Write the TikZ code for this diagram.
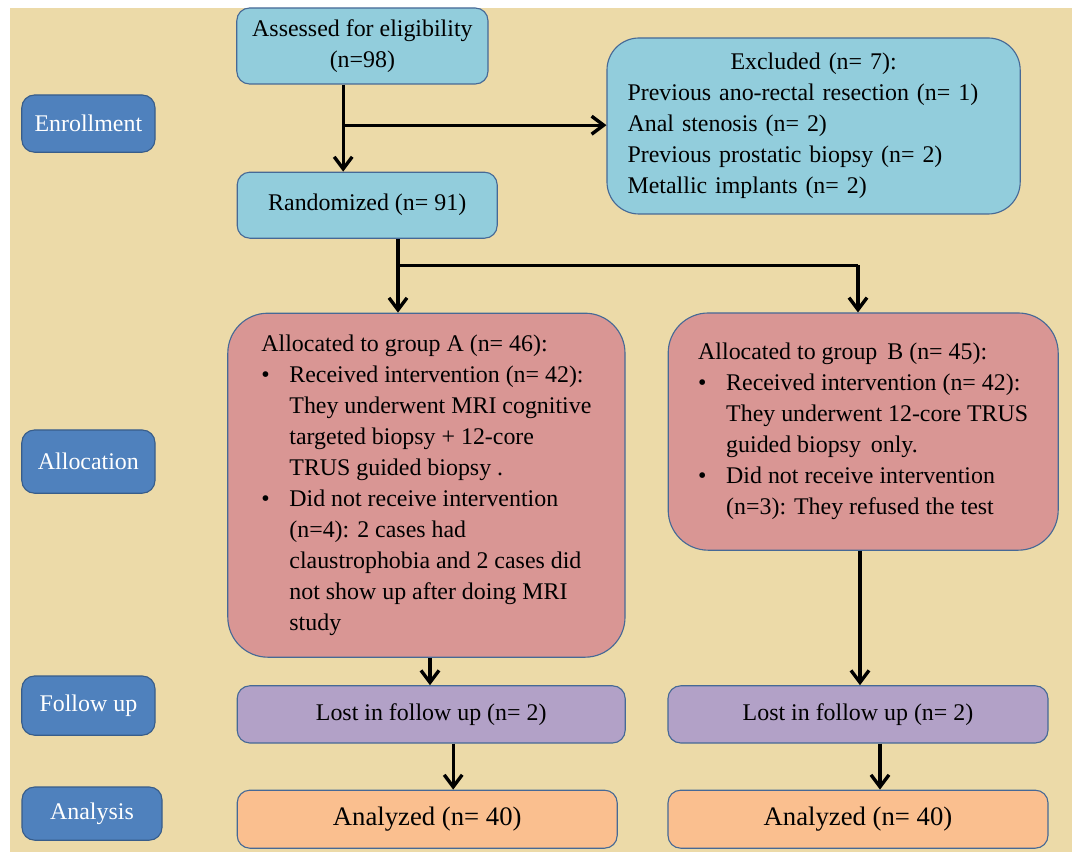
\documentclass[tikz,border=0pt]{standalone}
\usepackage{fontspec}
\setmainfont{Liberation Serif}
\usepackage{tikz}
\usetikzlibrary{positioning,arrows.meta}
\definecolor{paper}{RGB}{236,218,168}
\definecolor{stagefill}{RGB}{79,129,189}
\definecolor{stageline}{RGB}{56,93,138}
\definecolor{aqua}{RGB}{146,205,220}
\definecolor{rose}{RGB}{217,150,148}
\definecolor{lilac}{RGB}{178,161,199}
\definecolor{peach}{RGB}{250,191,143}
\definecolor{boxline}{RGB}{70,105,150}
\newcommand{\itm}{\makebox[7mm][l]{\textbullet}}
\newcommand{\ind}{\hspace*{7mm}}

\begin{document}
\begin{tikzpicture}[
every node/.style = {draw=boxline, line width=0.8pt, rounded corners=9pt, font=\fontsize{17}{22}\selectfont},
stage/.style = {fill=stagefill, draw=stageline, text=white, minimum width=3.33cm},
screen/.style = {fill=aqua},
group/.style = {fill=rose, rounded corners=1cm, align=left},
lost/.style = {fill=lilac, minimum width=9.5cm, minimum height=1.43cm},
done/.style = {fill=peach, minimum width=9.5cm, minimum height=1.45cm, font=\fontsize{19}{22}\selectfont},
arr/.style = {line width=2.4pt, -{Straight Barb[length=3mm,width=4.5mm]}}
]
\useasboundingbox (0,0) rectangle (26.975,-21.425);
\fill[paper] (0.25,-0.2) rectangle (26.8,-21.3);

\node (enroll) [stage, minimum height=1.43cm] at (2.21,-3.09) {Enrollment};
\node (alloc) [stage, minimum height=1.58cm] at (2.21,-11.54) {Allocation};
\node (follow) [stage, minimum height=1.48cm] at (2.21,-17.64) {Follow up};
\node (analysis) [stage, minimum width=3.5cm, minimum height=1.33cm] at (2.3,-20.34) {Analysis};

\node (assessed) [screen, align=center, minimum width=6.28cm, minimum height=1.9cm] at (9.06,-1.15) {Assessed for eligibility\\(n=98)};
\node (rand) [screen, minimum width=6.5cm, minimum height=1.65cm] at (9.18,-5.13) {Randomized (n= 91)};
\node (excl) [screen, rounded corners=0.8cm, text width=9.3cm, minimum width=10.33cm, minimum height=4.4cm] at (20.34,-3.15)
  {\centering Excluded (n= 7):\par\raggedright Previous ano-rectal resection (n= 1)\\Anal stenosis (n= 2)\\Previous prostatic biopsy (n= 2)\\Metallic implants (n= 2)};

\node (grpA) [group, minimum width=9.93cm, minimum height=8.6cm] at (10.66,-12.13)
  {Allocated to group A (n= 46):\\
   \itm Received intervention (n= 42):\\
   \ind They underwent MRI cognitive\\
   \ind targeted biopsy + 12-core\\
   \ind TRUS guided biopsy .\\
   \itm Did not receive intervention\\
   \ind (n=4): 2 cases had\\
   \ind claustrophobia and 2 cases did\\
   \ind not show up after doing MRI\\
   \ind study};
\node (grpB) [group, minimum width=9.75cm, minimum height=5.93cm] at (21.58,-10.79)
  {Allocated to group\, B (n= 45):\\
   \itm Received intervention (n= 42):\\
   \ind They underwent 12-core TRUS\\
   \ind guided biopsy\, only.\\
   \itm Did not receive intervention\\
   \ind (n=3): They refused the test};

\node (lostA) [lost, minimum width=9.7cm] at (10.78,-17.86) {Lost in follow up (n= 2)};
\node (lostB) [lost] at (21.45,-17.86) {Lost in follow up (n= 2)};
\node (anA) [done] at (10.68,-20.48) {Analyzed (n= 40)};
\node (anB) [done] at (21.45,-20.48) {Analyzed (n= 40)};

\coordinate (j1) at (8.58,-3.13);
\coordinate (j2) at (9.95,-6.63);
\coordinate (j3) at (21.45,-6.63);
\draw[arr] (assessed.south -| j1) -- (rand.north -| j1);
\draw[arr] (j1) -- (excl.west |- j1);
\draw[line width=2.4pt] (rand.south -| j2) -- (j2) -- (j3);
\draw[arr] (j2) -- (grpA.north -| j2);
\draw[arr] (j3) -- (grpB.north -| j3);
\draw[arr] (grpA.south -| 10.75,0) -- (lostA.north -| 10.75,0);
\draw[arr] (grpB.south -| 21.5,0) -- (lostB.north -| 21.5,0);
\draw[arr] (lostA.south -| 11.33,0) -- (anA.north -| 11.33,0);
\draw[arr] (lostB.south -| 22,0) -- (anB.north -| 22,0);
\end{tikzpicture}
\end{document}
